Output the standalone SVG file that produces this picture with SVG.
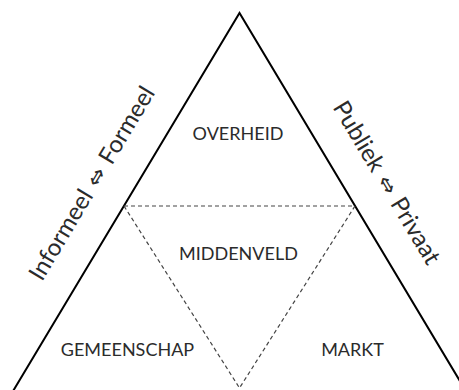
<svg xmlns="http://www.w3.org/2000/svg" width="459" height="390" viewBox="0 0 459 390">
<style>
.edge{fill:none;stroke:#000;stroke-width:2;stroke-linejoin:miter}
.dash{fill:none;stroke:#444;stroke-width:1.2;stroke-dasharray:4 3}
.lbl{font-family:Lato,"Open Sans","Liberation Sans",sans-serif;font-size:18px;fill:#2b2b2b;text-anchor:middle}
.side{font-family:Lato,"Open Sans","Liberation Sans",sans-serif;font-size:24px;fill:#2b2b2b;text-anchor:middle;word-spacing:2px}
.arr{font-family:"DejaVu Sans","Noto Sans",sans-serif;font-size:22px}
</style>
<rect width="459" height="390" fill="#fff"/>
<g id="connectors">
<path class="edge" d="M7.7 400 L239.5 13 L471.3 400"/>
<path class="dash" d="M124 206 L355 206 L239.5 388 Z"/>
</g>
<g id="overheid"><text class="lbl" x="238" y="140">OVERHEID</text></g>
<g id="middenveld"><text class="lbl" x="238.5" y="260">MIDDENVELD</text></g>
<g id="gemeenschap"><text class="lbl" x="127.5" y="356">GEMEENSCHAP</text></g>
<g id="markt"><text class="lbl" x="352.5" y="356">MARKT</text></g>
<g id="informeel-formeel"><text class="side" transform="translate(98.8 187.4) rotate(-59.08)">Informeel <tspan class="arr">⇔</tspan> Formeel</text></g>
<g id="publiek-privaat"><text class="side" transform="translate(379.8 186.8) rotate(59.08)">Publiek <tspan class="arr">⇔</tspan> Privaat</text></g>
</svg>
